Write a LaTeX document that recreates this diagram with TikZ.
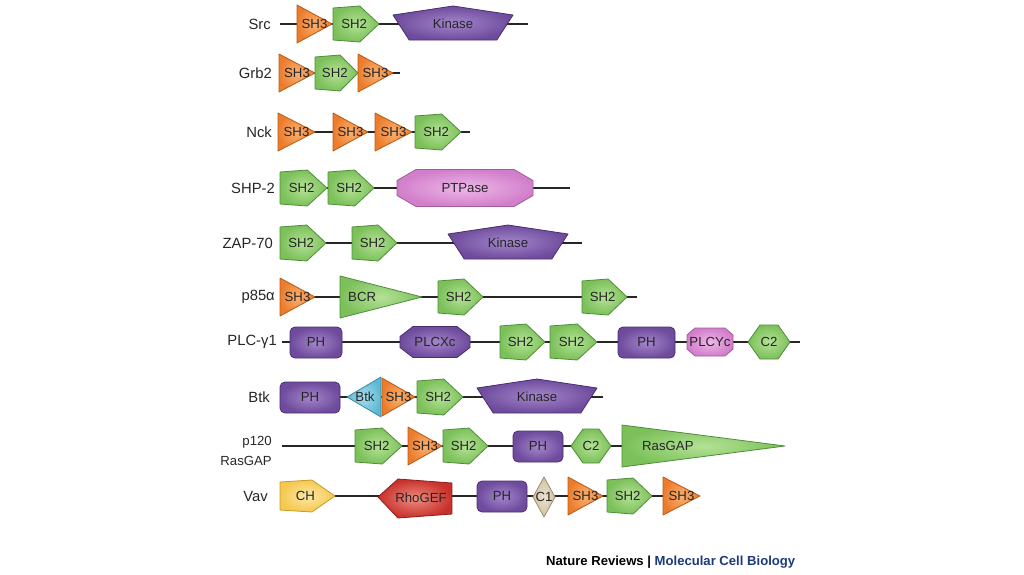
\documentclass[tikz,border=0pt]{standalone}
\usepackage{fontspec}
\setmainfont{Liberation Sans}
\usetikzlibrary{backgrounds}

\definecolor{shtb}{HTML}{EC7C2C}\definecolor{shtl}{HTML}{F9B070}\definecolor{shtd}{HTML}{B85A18}
\definecolor{shwb}{HTML}{7CC05A}\definecolor{shwl}{HTML}{B4E296}\definecolor{shwd}{HTML}{4E8E3A}
\definecolor{kinb}{HTML}{6E4B9C}\definecolor{kinl}{HTML}{A386CB}\definecolor{kind}{HTML}{4A2F70}
\definecolor{pnkb}{HTML}{D27FCB}\definecolor{pnkl}{HTML}{EDB8E7}\definecolor{pnkd}{HTML}{A15A9A}
\definecolor{cyab}{HTML}{5CB8D4}\definecolor{cyal}{HTML}{A6DCEC}\definecolor{cyad}{HTML}{3A8AA5}
\definecolor{yelb}{HTML}{F5C850}\definecolor{yell}{HTML}{FCE8A4}\definecolor{yeld}{HTML}{C89A2A}
\definecolor{redb}{HTML}{C8302A}\definecolor{redl}{HTML}{EC8C80}\definecolor{redd}{HTML}{8A1E1A}
\definecolor{begb}{HTML}{CFC0A0}\definecolor{begl}{HTML}{ECE3D0}\definecolor{begd}{HTML}{9E8E70}
\definecolor{natblue}{HTML}{1B3A7A}

\newcommand\dfont{\fontsize{13.2}{15}\selectfont}
\newcommand\rfont{\fontsize{14.8}{17}\selectfont}

\tikzset{
  dom/.style={line width=0.8pt, line join=round},
  sh3c/.style={dom, draw=shtd, inner color=shtl, outer color=shtb},
  sh2c/.style={dom, draw=shwd, inner color=shwl, outer color=shwb},
  kinc/.style={dom, draw=kind, inner color=kinl, outer color=kinb},
  pnkc/.style={dom, draw=pnkd, inner color=pnkl, outer color=pnkb},
  cyac/.style={dom, draw=cyad, inner color=cyal, outer color=cyab},
  yelc/.style={dom, draw=yeld, inner color=yell, outer color=yelb},
  redc/.style={dom, draw=redd, inner color=redl, outer color=redb},
  begc/.style={dom, draw=begd, inner color=begl, outer color=begb},
  lbl/.style={font=\dfont, text=black!85, inner sep=0pt},
  rowlbl/.style={font=\rfont, anchor=east, inner sep=0pt, text=black!85},
  backbone/.style={line width=1.3pt, draw=black!85},
}

% right-pointing triangle: name xl xr y hh style
\newcommand\mkTriR[6]{%
  \path[#6] (#2,#4-#5) -- (#3,#4) -- (#2,#4+#5) -- cycle;}
\newcommand\mkSHiii[4]{%
  \mkTriR{#1}{#2}{#3}{#4}{19}{sh3c}
  \node[lbl] (#1) at ({(#2+#3)/2},#4) {SH3};}
% pentagon pointing right: name xl xr y hh style text
\newcommand\mkPent[7]{%
  \path[#6] (#2,#4-#5+2) -- ({#2+0.58*(#3-#2)},#4-#5) -- (#3,#4) -- ({#2+0.58*(#3-#2)},#4+#5) -- (#2,#4+#5-2) -- cycle;
  \node[lbl] (#1) at ({#2+0.46*(#3-#2)},#4) {#7};}
\newcommand\mkSHii[4]{\mkPent{#1}{#2}{#3}{#4}{18}{sh2c}{SH2}}
% kinase
\newcommand\mkKin[4]{%
  \path[kinc] (#2,#4-9) -- ({(#2+#3)/2},#4-18) -- (#3,#4-9) -- ({#3-0.135*(#3-#2)},#4+16) -- ({#2+0.135*(#3-#2)},#4+16) -- cycle;
  \node[lbl] (#1) at ({(#2+#3)/2},#4) {Kinase};}
% PH rounded box
\newcommand\mkPH[4]{%
  \path[kinc, rounded corners=5pt] (#2,#4-15) rectangle (#3,#4+16);
  \node[lbl] (#1) at ({(#2+#3)/2},#4) {PH};}
% octagon: name xl xr y hh cx cy style text
\newcommand\mkOct[9]{%
  \path[#8] (#2,#4-#5+#7) -- (#2+#6,#4-#5) -- (#3-#6,#4-#5) -- (#3,#4-#5+#7) -- (#3,#4+#5-#7) -- (#3-#6,#4+#5) -- (#2+#6,#4+#5) -- (#2,#4+#5-#7) -- cycle;
  \node[lbl] (#1) at ({(#2+#3)/2},#4) {#9};}
% hexagon C2: name xl xr y
\newcommand\mkCtwo[4]{%
  \path[sh2c] (#2,#4) -- (#2+12,#4-17) -- (#3-12,#4-17) -- (#3,#4) -- (#3-12,#4+17) -- (#2+12,#4+17) -- cycle;
  \node[lbl] (#1) at ({(#2+#3)/2},#4) {C2};}

\begin{document}
\begin{tikzpicture}[x=1pt,y=-1pt]
\useasboundingbox (0,0) rectangle (1024,574);

% ---------- Src
\node[rowlbl] (srcL) at (271,24) {Src};
\mkSHiii{srcA}{297}{332}{24}
\mkSHii{srcB}{333}{379}{24}
\mkKin{srcC}{393}{513}{24}
\coordinate (srcS) at (280,24); \coordinate (srcE) at (528,24);

% ---------- Grb2
\node[rowlbl] (grbL) at (272,73) {Grb2};
\mkSHiii{grbA}{279}{315}{73}
\mkSHii{grbB}{315}{358}{73}
\mkSHiii{grbC}{358}{393}{73}
\coordinate (grbE) at (400,73);

% ---------- Nck
\node[rowlbl] (nckL) at (272,132) {Nck};
\mkSHiii{nckA}{278}{315}{132}
\mkSHiii{nckB}{333}{368}{132}
\mkSHiii{nckC}{375}{412}{132}
\mkSHii{nckD}{415}{461}{132}
\coordinate (nckE) at (470,132);

% ---------- SHP-2
\node[rowlbl] (shpL) at (275,188) {SHP-2};
\mkSHii{shpA}{280}{327}{188}
\mkSHii{shpB}{328}{374}{188}
\mkOct{shpC}{397}{533}{188}{18.5}{19}{11}{pnkc}{PTPase}
\coordinate (shpE) at (570,188);

% ---------- ZAP-70
\node[rowlbl] (zapL) at (273,243) {ZAP-70};
\mkSHii{zapA}{280}{326}{243}
\mkSHii{zapB}{352}{397}{243}
\mkKin{zapC}{448}{568}{243}
\coordinate (zapE) at (582,243);

% ---------- p85alpha
\node[rowlbl] (pL) at (275,297) {p85α};
\mkSHiii{pA}{280}{315}{297}
\mkTriR{pB}{340}{422}{297}{21}{sh2c}
\node[lbl, anchor=west] (pB) at (348,297) {BCR};
\mkSHii{pC}{438}{483}{297}
\mkSHii{pD}{582}{627}{297}
\coordinate (pE) at (637,297);

% ---------- PLC-gamma1
\node[rowlbl] (plcL) at (277,342) {PLC-γ1};
\coordinate (plcS) at (282,342);
\mkPH{plcA}{290}{342}{342}
\mkOct{plcB}{400}{470}{342}{15.5}{13}{10}{kinc}{PLCXc}
\mkSHii{plcC}{500}{545}{342}
\mkSHii{plcD}{550}{597}{342}
\mkPH{plcE}{618}{675}{342}
\mkOct{plcF}{687}{733}{342}{14}{8}{7}{pnkc}{PLCYc}
\mkCtwo{plcG}{748}{790}{342}
\coordinate (plcZ) at (800,342);

% ---------- Btk
\node[rowlbl] (btkL) at (270,397) {Btk};
\mkPH{btkA}{280}{340}{397}
\path[cyac] (381,377) -- (347,397) -- (381,417) -- cycle;
\node[lbl] (btkB) at (365,397) {Btk};
\mkSHiii{btkC}{382}{415}{397}
\mkSHii{btkD}{417}{463}{397}
\mkKin{btkE}{477}{597}{397}
\coordinate (btkZ) at (603,397);

% ---------- p120 RasGAP
\node[rowlbl, font=\dfont] (rgL1) at (272,442) {p120};
\node[rowlbl, font=\dfont] (rgL2) at (272,461) {RasGAP};
\coordinate (rgS) at (282,446);
\mkSHii{rgA}{355}{402}{446}
\mkSHiii{rgB}{408}{442}{446}
\mkSHii{rgC}{443}{488}{446}
\mkPH{rgD}{513}{563}{446}
\mkCtwo{rgE}{571}{611}{446}
\mkTriR{rgF}{622}{785}{446}{21}{sh2c}
\node[lbl, anchor=west] (rgF) at (642,446) {RasGAP};

% ---------- Vav
\node[rowlbl] (vavL) at (268,496) {Vav};
\mkPent{vavA}{280}{335}{496}{16}{yelc}{CH}
\path[redc] (378,497) -- (398,479) -- (452,483) -- (452,514) -- (398,518) -- cycle;
\node[lbl] (vavB) at (421,498) {RhoGEF};
\mkPH{vavC}{477}{527}{496}
\path[begc] (533,497) -- (544,477) -- (555,497) -- (544,517) -- cycle;
\node[lbl] (vavD) at (544,497) {C1};
\mkSHiii{vavE}{568}{603}{496}
\mkSHii{vavF}{607}{652}{496}
\mkSHiii{vavG}{663}{700}{496}

% ---------- footer
\node[anchor=west, inner sep=0pt, font=\bfseries\fontsize{13.1}{15}\selectfont] (foot) at (546,562)
  {Nature Reviews | \textcolor{natblue}{Molecular Cell Biology}};

% ---------- backbones
\begin{pgfonlayer}{background}
\draw[backbone] (srcS) -- (srcE);
\draw[backbone] (grbA) -- (grbE);
\draw[backbone] (nckA) -- (nckE);
\draw[backbone] (shpA) -- (shpE);
\draw[backbone] (zapA) -- (zapE);
\draw[backbone] (pA) -- (pE);
\draw[backbone] (plcS) -- (plcZ);
\draw[backbone] (btkA) -- (btkZ);
\draw[backbone] (rgS) -- (rgF);
\draw[backbone] (vavA) -- (vavG);
\end{pgfonlayer}
\end{tikzpicture}
\end{document}
